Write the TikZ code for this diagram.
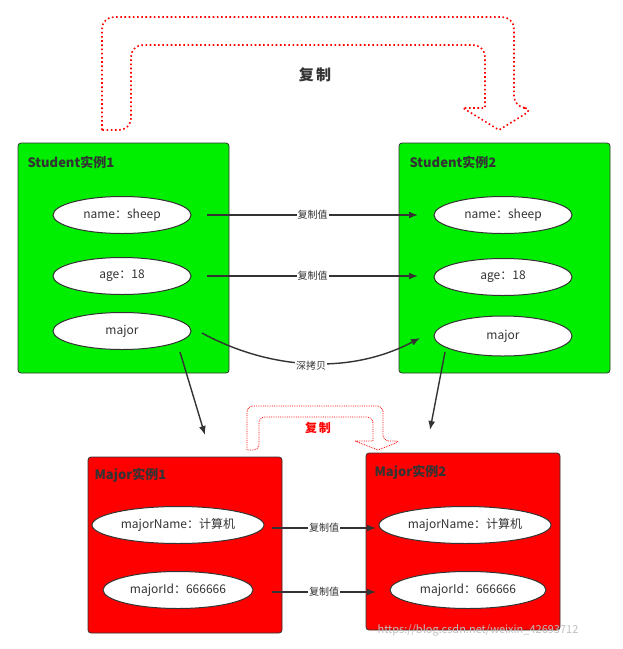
\documentclass[tikz,border=0pt]{standalone}
\usepackage{fontspec}
\setmainfont{Noto Sans CJK SC}
\usetikzlibrary{arrows.meta,shapes.geometric}
\definecolor{gr}{HTML}{00EE00}
\definecolor{rd}{HTML}{FF0000}
\definecolor{ink}{HTML}{333333}
\begin{document}
\begin{tikzpicture}[x=1pt,y=-1pt,
 box/.style={draw=ink,line width=0.8pt,rounded corners=3pt},
 el/.style={draw=ink,fill=white,ellipse,line width=1pt,font=\fontsize{12}{14}\selectfont,text=ink},
 ttl/.style={anchor=west,font=\bfseries\fontsize{13}{15}\selectfont,text=ink},
 arr/.style={draw=ink,line width=1.4pt,-{Latex[length=9pt,width=7pt]}},
 lbl/.style={fill=white,inner sep=1pt,font=\fontsize{10}{12}\selectfont,text=ink},
 dots/.style={draw=rd,line width=1.6pt,dash pattern=on 1.6pt off 2.6pt,rounded corners=12pt}]
\useasboundingbox (0,0) rectangle (623,649);
% big copy arrow
\draw[dots] (102,130) -- (102,17) -- (514,17) -- (514,108) -- (535,108) [sharp corners]-- (499,130) -- (463,108) -- (485,108) [rounded corners=12pt]-- (485,45) -- (131,45) -- (131,130) [sharp corners]-- cycle;
\node[font=\bfseries\fontsize{15}{17}\selectfont,text=ink] (c1) at (315,75) {复\,制};
% boxes
\node[box,fill=gr,minimum width=211pt,minimum height=230pt] (s1) at (123.5,258) {};
\node[box,fill=gr,minimum width=211pt,minimum height=230pt] (s2) at (504.5,258) {};
\node[box,fill=rd,minimum width=194pt,minimum height=176pt] (m1) at (185,545) {};
\node[box,fill=rd,minimum width=194pt,minimum height=177pt] (m2) at (463,541.5) {};
\node[ttl] (t1) at (24,162) {Student实例1};
\node[ttl] (t2) at (406,162) {Student实例2};
\node[ttl] (t3) at (91,475) {Major实例1};
\node[ttl] (t4) at (371,472) {Major实例2};
% ellipses
\node[el,minimum width=138pt,minimum height=37pt] (n1) at (122,215) {name：sheep};
\node[el,minimum width=138pt,minimum height=37pt] (a1) at (122,276) {age：18};
\node[el,minimum width=138pt,minimum height=37pt] (j1) at (122,331) {major};
\node[el,minimum width=138pt,minimum height=37pt] (n2) at (503,215) {name：sheep};
\node[el,minimum width=138pt,minimum height=37pt] (a2) at (503,277) {age：18};
\node[el,minimum width=138pt,minimum height=40pt] (j2) at (503,336) {major};
\node[el,minimum width=172pt,minimum height=37pt] (mn1) at (178,525) {majorName：计算机};
\node[el,minimum width=150pt,minimum height=37pt] (mi1) at (178,590) {majorId：666666};
\node[el,minimum width=172pt,minimum height=37pt] (mn2) at (465,525) {majorName：计算机};
\node[el,minimum width=156pt,minimum height=37pt] (mi2) at (468,590) {majorId：666666};
% connectors
\coordinate (p1) at (207,215); \coordinate (q1) at (418,215);
\coordinate (p2) at (207,276); \coordinate (q2) at (418,276);
\coordinate (p3) at (202,333); \coordinate (q3) at (420,338);
\draw[arr] (p1) -- node[lbl]{复制值} (q1);
\draw[arr] (p2) -- node[lbl]{复制值} (q2);
\draw[arr] (p3) .. controls (270,370) and (350,375) .. (q3);
\node[lbl] (dk) at (311,366) {深拷贝};
\coordinate (d1) at (180,352); \coordinate (e1) at (205,435);
\coordinate (d2) at (445,352); \coordinate (e2) at (430,430);
\draw[arr] (d1) -- (e1);
\draw[arr] (d2) -- (e2);
\coordinate (f1) at (272,528); \coordinate (g1) at (376,528);
\coordinate (f2) at (272,592); \coordinate (g2) at (376,592);
\draw[arr] (f1) -- node[lbl]{复制值} (g1);
\draw[arr] (f2) -- node[lbl]{复制值} (g2);
% small copy arrow
\draw[draw=rd,line width=0.8pt,densely dotted,rounded corners=6pt] (247,450) -- (247,406) -- (383,406) -- (383,441) -- (401,441) [sharp corners]-- (378,450) -- (355,441) -- (373,441) [rounded corners=6pt]-- (373,417) -- (259,417) -- (259,450) [sharp corners]-- cycle;
\node[font=\bfseries\fontsize{12}{14}\selectfont,text=rd] (c2) at (318,428) {复\,制};
\node[text=black!25,font=\fontsize{11}{13}\selectfont] (wm) at (478,630) {https://blog.csdn.net/weixin\_42693712};
\end{tikzpicture}
\end{document}
